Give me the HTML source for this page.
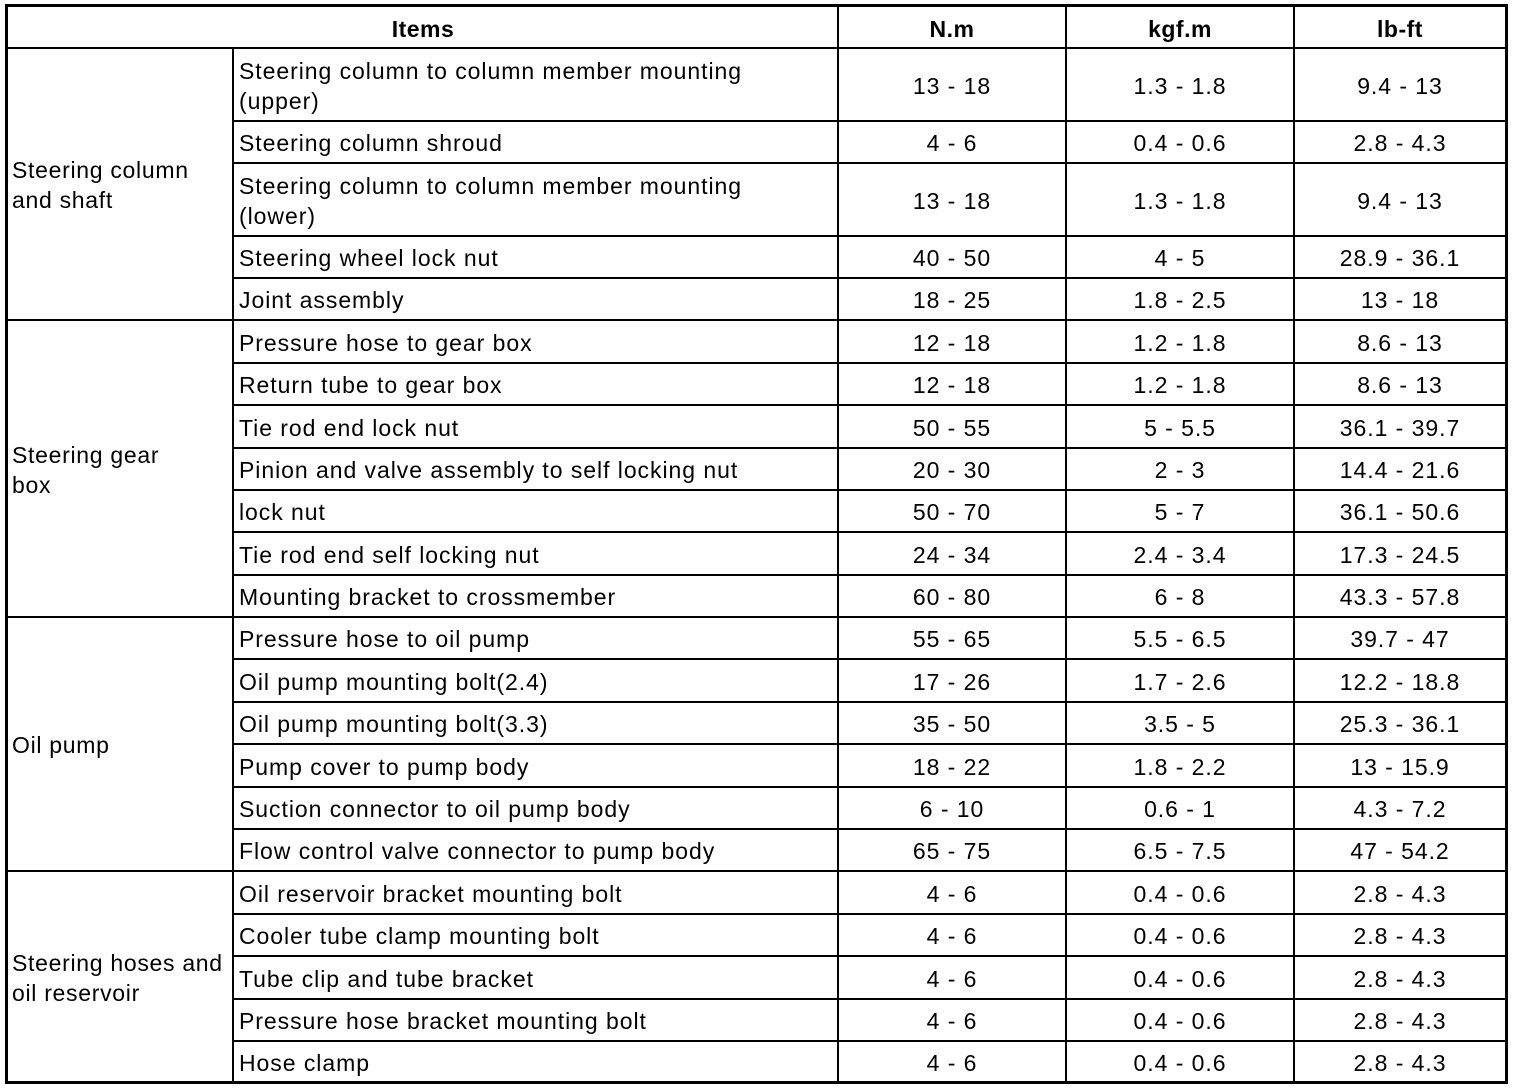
<!DOCTYPE html>
<html><head><meta charset="utf-8"><style>
body{margin:0;width:1520px;height:1090px;background:#fff;position:relative;overflow:hidden;font-family:"Liberation Sans",Arial,sans-serif;font-size:23px;letter-spacing:0.95px;color:#000}
.l{position:absolute;background:#000}
.c{position:absolute;display:flex;align-items:center;line-height:30px;box-sizing:border-box;padding-top:2px}
.t{padding-left:5px}
.n{justify-content:center;text-align:center}
.b{font-weight:bold;letter-spacing:0.5px}
</style></head><body>
<div class="l" style="left:5px;top:4px;width:1503px;height:3px"></div>
<div class="l" style="left:5px;top:1081px;width:1503px;height:3px"></div>
<div class="l" style="left:5px;top:4px;width:3px;height:1080px"></div>
<div class="l" style="left:1505px;top:4px;width:3px;height:1080px"></div>
<div class="l" style="left:232px;top:48px;width:2px;height:1035px"></div>
<div class="l" style="left:837px;top:7px;width:2px;height:1076px"></div>
<div class="l" style="left:1065px;top:7px;width:2px;height:1076px"></div>
<div class="l" style="left:1293px;top:7px;width:2px;height:1076px"></div>
<div id="rows"></div>
<div class="c n b" style="left:8px;top:7px;width:830px;height:41px">Items</div>
<div class="c n b" style="left:838px;top:7px;width:228px;height:41px">N.m</div>
<div class="c n b" style="left:1066px;top:7px;width:228px;height:41px">kgf.m</div>
<div class="c n b" style="left:1294px;top:7px;width:212px;height:41px">lb-ft</div>
<script>
var ys=[48,121,163,236,278,320,363,405,448,490,532,575,617,659,702,744,787,829,871,914,956,999,1041,1083];
var d=[["Steering column to column member mounting<br>(upper)","13 - 18","1.3 - 1.8","9.4 - 13"],
["Steering column shroud","4 - 6","0.4 - 0.6","2.8 - 4.3"],
["Steering column to column member mounting<br>(lower)","13 - 18","1.3 - 1.8","9.4 - 13"],
["Steering wheel lock nut","40 - 50","4 - 5","28.9 - 36.1"],
["Joint assembly","18 - 25","1.8 - 2.5","13 - 18"],
["Pressure hose to gear box","12 - 18","1.2 - 1.8","8.6 - 13"],
["Return tube to gear box","12 - 18","1.2 - 1.8","8.6 - 13"],
["Tie rod end lock nut","50 - 55","5 - 5.5","36.1 - 39.7"],
["Pinion and valve assembly to self locking nut","20 - 30","2 - 3","14.4 - 21.6"],
["lock nut","50 - 70","5 - 7","36.1 - 50.6"],
["Tie rod end self locking nut","24 - 34","2.4 - 3.4","17.3 - 24.5"],
["Mounting bracket to crossmember","60 - 80","6 - 8","43.3 - 57.8"],
["Pressure hose to oil pump","55 - 65","5.5 - 6.5","39.7 - 47"],
["Oil pump mounting bolt(2.4)","17 - 26","1.7 - 2.6","12.2 - 18.8"],
["Oil pump mounting bolt(3.3)","35 - 50","3.5 - 5","25.3 - 36.1"],
["Pump cover to pump body","18 - 22","1.8 - 2.2","13 - 15.9"],
["Suction connector to oil pump body","6 - 10","0.6 - 1","4.3 - 7.2"],
["Flow control valve connector to pump body","65 - 75","6.5 - 7.5","47 - 54.2"],
["Oil reservoir bracket mounting bolt","4 - 6","0.4 - 0.6","2.8 - 4.3"],
["Cooler tube clamp mounting bolt","4 - 6","0.4 - 0.6","2.8 - 4.3"],
["Tube clip and tube bracket","4 - 6","0.4 - 0.6","2.8 - 4.3"],
["Pressure hose bracket mounting bolt","4 - 6","0.4 - 0.6","2.8 - 4.3"],
["Hose clamp","4 - 6","0.4 - 0.6","2.8 - 4.3"]];
var g=[["Steering column<br>and shaft",48,320],["Steering gear<br>box",320,617],["Oil pump",617,871],["Steering hoses and<br>oil reservoir",871,1083]];
var h="";
var gb=[48,320,617,871];
for(var i=0;i<ys.length-1;i++){
 var y=ys[i];
 var x0=gb.indexOf(y)>=0?8:233;
 h+='<div class="l" style="left:'+x0+'px;top:'+(y-1)+'px;width:'+(1505-x0)+'px;height:2px"></div>';
 var hh=ys[i+1]-y, r=d[i];
 h+='<div class="c t" style="left:234px;top:'+y+'px;width:603px;height:'+hh+'px">'+r[0]+'</div>';
 h+='<div class="c n" style="left:838px;top:'+y+'px;width:228px;height:'+hh+'px">'+r[1]+'</div>';
 h+='<div class="c n" style="left:1066px;top:'+y+'px;width:228px;height:'+hh+'px">'+r[2]+'</div>';
 h+='<div class="c n" style="left:1294px;top:'+y+'px;width:212px;height:'+hh+'px">'+r[3]+'</div>';
}
for(var j=0;j<g.length;j++){
 h+='<div class="c t" style="left:7px;top:'+g[j][1]+'px;width:226px;height:'+(g[j][2]-g[j][1])+'px;letter-spacing:0.7px">'+g[j][0]+'</div>';
}
document.getElementById("rows").innerHTML=h;
</script>
</body></html>
